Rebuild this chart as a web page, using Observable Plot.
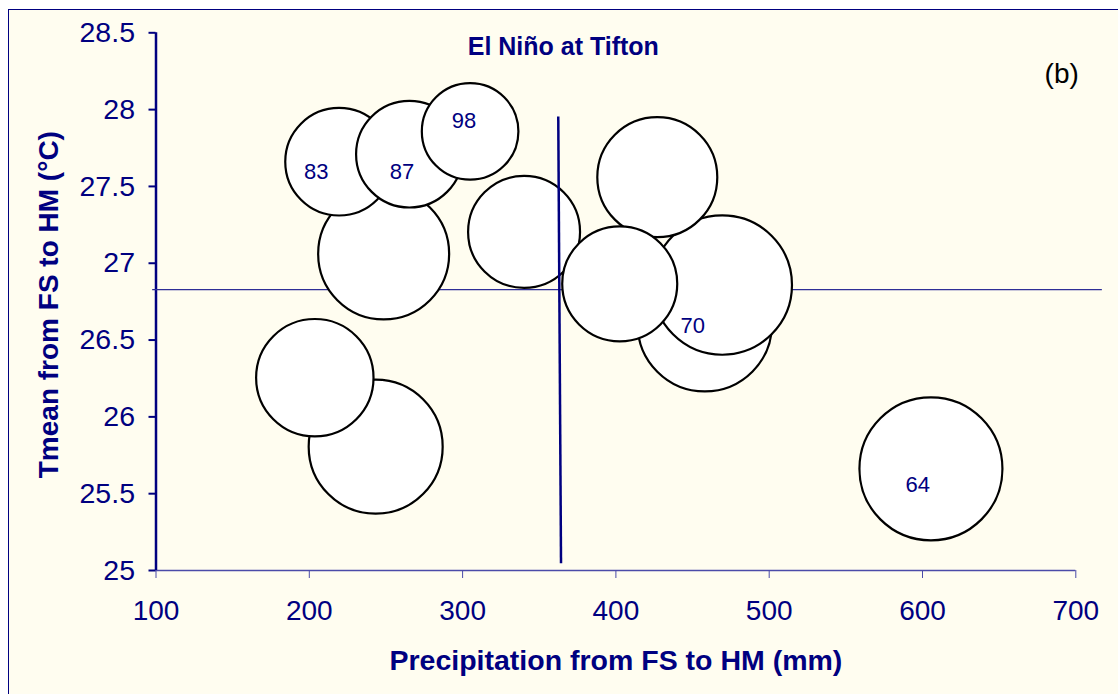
<!DOCTYPE html>
<html>
<head>
<meta charset="utf-8">
<script src="https://cdn.jsdelivr.net/npm/d3@7"></script>
<script src="https://cdn.jsdelivr.net/npm/@observablehq/plot@0.6"></script>
<style>
  html, body { margin: 0; padding: 0; background: #ffffff; overflow: hidden; }
  #frame { position: absolute; left: 8px; top: 9px; width: 1200px; height: 800px;
           background: #fffdf0; border-left: 1.5px solid #000080; border-top: 1.5px solid #000080; }
  #chart { position: absolute; left: 0; top: 0; }
</style>
</head>
<body>
<div id="frame"></div>
<div id="chart"></div>
<script>
// Bubble data (drawn in this order, bottom to top)
const precip     = [248.5, 219.4, 265.3, 304.9, 340.1, 458.0, 469.4, 427.0, 402.5, 243.3, 203.6, 605.5];
const tmean      = [27.061, 27.661, 27.71, 27.858, 27.204, 26.603, 26.858, 27.56, 26.866, 25.806, 26.255, 25.662];
const bubbleSize = [83.9, 56.6, 55.6, 45.6, 61.3, 88.3, 95.0, 70.4, 64.7, 87.8, 67.4, 100];

// Year labels and their positions
const labelText = ["83", "87", "98", "70", "64"];
const labelX    = [204.5, 260.4, 300.9, 450.2, 596.9];
const labelY    = [27.591, 27.591, 27.927, 26.589, 25.556];

// Reference lines (means)
const meanTemp = 26.828;
const hLineX = [97.5, 717];
const vLineX = [362.4, 364.2];
const vLineY = [27.955, 25.047];

// Axis ticks
const xTicks = [100, 200, 300, 400, 500, 600, 700];
const yTicks = [25, 25.5, 26, 26.5, 27, 27.5, 28, 28.5];

const title = "El Niño at Tifton";
const panel = "(b)";
const xTitle = "Precipitation from FS to HM (mm)";
const yTitle = "Tmean from FS to HM (°C)";

const bubbles = precip.map((p, i) => ({x: p, y: tmean[i], s: bubbleSize[i]}));
const labels = labelText.map((t, i) => ({t, x: labelX[i], y: labelY[i]}));
const hLine = [{x1: hLineX[0], x2: hLineX[1], y1: meanTemp, y2: meanTemp}];
const vLine = [{x1: vLineX[0], x2: vLineX[1], y1: vLineY[0], y2: vLineY[1]}];

const navy = "#000080";
const font = "'Liberation Sans', Arial, sans-serif";

const plot = Plot.plot({
  width: 1118,
  height: 694,
  marginLeft: 155.5,
  marginRight: 42.7,
  marginTop: 32.3,
  marginBottom: 124,
  style: {background: "transparent", fontFamily: font},
  x: {domain: [100, 700]},
  y: {domain: [25, 28.5]},
  r: {type: "sqrt", domain: [0, 100], range: [0, 71.5]},
  marks: [
    Plot.ruleY([25], {stroke: "#4b4ba8", strokeWidth: 1.5}),
    Plot.axisX({ticks: xTicks, tickSize: 8, tickPadding: 22, fontSize: 28, stroke: "#4b4ba8", fill: navy,
                tickFormat: d => String(d), label: null}),
    Plot.axisY({ticks: yTicks, tickSize: 7, tickPadding: 14, fontSize: 28.5, stroke: navy, fill: navy, strokeWidth: 2,
                tickFormat: d => String(d), label: null}),
    Plot.ruleX([100], {stroke: navy, strokeWidth: 2.5}),
    Plot.link(hLine, {x1: "x1", x2: "x2", y1: "y1", y2: "y2", stroke: "#2e2e96", strokeWidth: 1.2}),
    Plot.dot(bubbles, {x: "x", y: "y", r: "s", fill: "white", stroke: "black", strokeWidth: 2.2, sort: null}),
    Plot.link(vLine, {x1: "x1", x2: "x2", y1: "y1", y2: "y2", stroke: navy, strokeWidth: 2.5}),
    Plot.text(labels, {x: "x", y: "y", text: "t", fill: navy, fontSize: 22}),
    Plot.text([title], {frameAnchor: "top", dx: -52.6, dy: 4, fill: navy, fontSize: 25, fontWeight: "bold"}),
    Plot.text([panel], {frameAnchor: "top-right", dx: 3, dy: 30, fill: "black", fontSize: 28}),
    Plot.text([xTitle], {frameAnchor: "bottom", dy: 99, fill: navy, fontSize: 28.5, fontWeight: "bold"}),
    Plot.text([yTitle], {frameAnchor: "left", textAnchor: "middle", dx: -106.5, dy: 3, rotate: -90,
                         fill: navy, fontSize: 28, fontWeight: "bold"})
  ]
});
document.getElementById("chart").appendChild(plot);
</script>
</body>
</html>
